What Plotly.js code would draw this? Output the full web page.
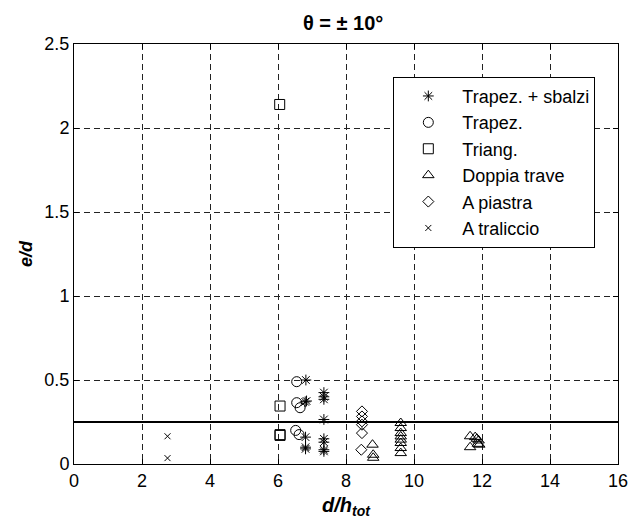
<!DOCTYPE html>
<html>
<head>
<meta charset="utf-8">
<script src="https://cdn.plot.ly/plotly-3.0.1.min.js"></script>
<style>html,body{margin:0;padding:0;background:#fff;}#chart{width:632px;height:527px;}</style>
</head>
<body>
<div id="chart"></div>
<script>
// ---- data ----
const seriesNames = ["Trapez. + sbalzi", "Trapez.", "Triang.", "Doppia trave", "A piastra", "A traliccio"];

const trapSbalziX = [6.82, 6.80, 6.84, 7.35, 7.35, 7.35, 7.35, 6.81, 6.81, 6.81, 7.35, 7.35, 7.35, 7.35];
const trapSbalziY = [0.500, 0.370, 0.375, 0.425, 0.400, 0.385, 0.265, 0.160, 0.100, 0.090, 0.150, 0.130, 0.085, 0.075];

const trapX = [6.55, 6.55, 6.65, 6.52, 6.62];
const trapY = [0.490, 0.365, 0.335, 0.200, 0.175];

const triangX = [6.05, 6.06, 6.06, 6.06];
const triangY = [2.140, 0.345, 0.175, 0.170];

const doppiaX = [8.78, 8.80, 8.80, 9.61, 9.61, 9.61, 9.61, 9.61, 9.61, 9.61, 9.61, 11.65, 11.65, 11.80, 11.85, 11.90, 11.88, 11.92];
const doppiaY = [0.115, 0.055, 0.037, 0.244, 0.214, 0.184, 0.164, 0.145, 0.125, 0.095, 0.065, 0.165, 0.100, 0.160, 0.150, 0.140, 0.120, 0.115];

const piastraX = [8.47, 8.47, 8.47, 8.47, 8.47, 8.45];
const piastraY = [0.313, 0.283, 0.254, 0.234, 0.184, 0.085];

const tralX = [2.75, 2.75];
const tralY = [0.165, 0.035];

const refLineX = [0, 16];
const refLineY = [0.25, 0.25];

const xTickVals = [0, 2, 4, 6, 8, 10, 12, 14, 16];
const yTickVals = [0, 0.5, 1, 1.5, 2, 2.5];

// ---- styling ----
const FONT = "Liberation Sans, Arial, Helvetica, sans-serif";
function mk(symbol, size) {
  return {symbol: symbol, size: size, color: "#000", line: {color: "#000", width: 1}};
}

const traces = [
  {x: refLineX, y: refLineY, mode: "lines", line: {color: "#000", width: 2}, showlegend: false, hoverinfo: "skip"},
  {x: trapSbalziX, y: trapSbalziY, mode: "markers", name: seriesNames[0], marker: mk("asterisk-open", 9)},
  {x: trapX, y: trapY, mode: "markers", name: seriesNames[1], marker: mk("circle-open", 10)},
  {x: triangX, y: triangY, mode: "markers", name: seriesNames[2], marker: mk("square-open", 10)},
  {x: doppiaX, y: doppiaY, mode: "markers", name: seriesNames[3], marker: mk("triangle-up-open", 10)},
  {x: piastraX, y: piastraY, mode: "markers", name: seriesNames[4], marker: mk("diamond-open", 8.5)},
  {x: tralX, y: tralY, mode: "markers", name: seriesNames[5], marker: mk("x-thin-open", 6)}
];

const axisCommon = {
  showline: true, linecolor: "#000", linewidth: 1, mirror: "ticks",
  ticks: "inside", ticklen: 5, tickcolor: "#000", tickwidth: 1,
  showgrid: true, gridcolor: "#222", gridwidth: 1, griddash: "6px,4px",
  zeroline: false, tickfont: {family: FONT, size: 18, color: "#000"}
};

const layout = {
  width: 632, height: 527,
  margin: {l: 74, r: 14, t: 44, b: 63},
  paper_bgcolor: "#fff", plot_bgcolor: "#fff",
  font: {family: FONT, color: "#000"},
  title: {text: "θ = ± 10°", font: {family: FONT, size: 20, weight: "bold", color: "#000"},
          x: 0.543, xanchor: "center", y: 0.957, yanchor: "middle", yref: "container", xref: "container"},
  xaxis: Object.assign({}, axisCommon, {
    range: [0, 16], tickvals: xTickVals,
    title: {text: "d/h<sub>tot</sub>", font: {family: FONT, size: 20, weight: "bold", style: "italic", color: "#000"}, standoff: 8}
  }),
  yaxis: Object.assign({}, axisCommon, {
    range: [0, 2.5], tickvals: yTickVals,
    title: {text: "e/d", font: {family: FONT, size: 18, weight: "bold", style: "italic", color: "#000"}, standoff: 7}
  }),
  legend: {
    x: 0.587, y: 0.922, xanchor: "left", yanchor: "top",
    bgcolor: "#fff", bordercolor: "#000", borderwidth: 1,
    font: {family: FONT, size: 18, color: "#000"}, itemwidth: 58,
    entrywidth: 140, entrywidthmode: "pixels"
  },
  showlegend: true
};

Plotly.newPlot("chart", traces, layout, {displayModeBar: false, staticPlot: true});
</script>
</body>
</html>
